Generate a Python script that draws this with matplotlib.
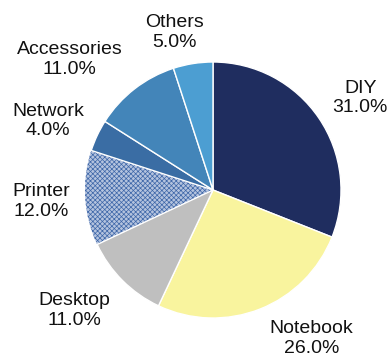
import matplotlib
matplotlib.use("Agg")
import matplotlib.pyplot as plt

plt.rcParams['font.family'] = ['Liberation Sans', 'DejaVu Sans']
plt.rcParams['hatch.linewidth'] = 0.5

categories = ['DIY', 'Notebook', 'Desktop', 'Printer', 'Network', 'Accessories', 'Others']
shares = [31.0, 26.0, 11.0, 12.0, 4.0, 11.0, 5.0]
colors = ['#1f2d5f', '#f9f49e', '#bfbfbf', '#b4c3de', '#3a6da4', '#4385b9', '#4c9ed2']

# where each label sits (data units, pie radius = 1)
label_pos = [(1.15, 0.72), (0.77, -1.16), (-1.08, -0.94), (-1.34, -0.09),
             (-1.29, 0.54), (-1.12, 1.02), (-0.30, 1.23)]

fig = plt.figure(figsize=(3.88, 3.63), dpi=100)
ax = fig.add_axes([0, 0, 1, 1])

wedges, texts = ax.pie(shares, colors=colors, startangle=90, counterclock=False,
                       labels=[f'{c}\n{s:.1f}%' for c, s in zip(categories, shares)],
                       wedgeprops=dict(edgecolor='white', linewidth=1.0),
                       textprops=dict(fontsize=14, color='#111111'))

# printer slice gets the fine blue check pattern
pw = wedges[categories.index('Printer')]
pw.set_hatch('xxxxxxx')
pw.set_edgecolor('#3d66a8')
pw.set_linewidth(0)
pw.set_zorder(0.9)

for t, (x, y) in zip(texts, label_pos):
    t.set_position((x, y))
    t.set_ha('center')
    t.set_va('center')

r = 128
ax.set_xlim(-213 / r, (388 - 213) / r)
ax.set_ylim(-(363 - 190) / r, 190 / r)
ax.set_aspect('auto')
ax.axis('off')

fig.savefig('out.png', dpi=100)
